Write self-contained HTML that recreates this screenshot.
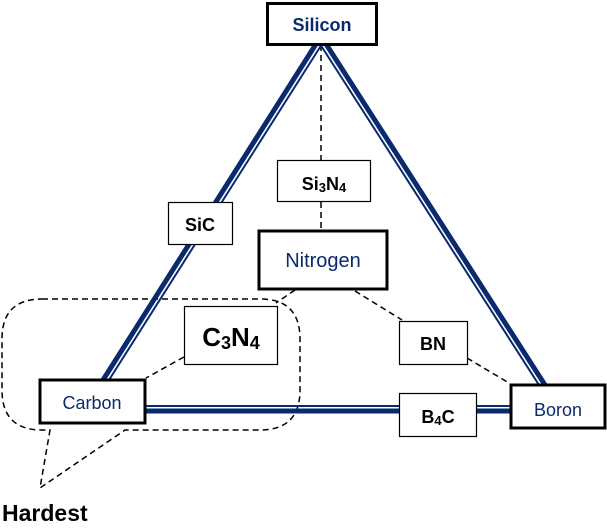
<!DOCTYPE html>
<html><head><meta charset="utf-8"><style>
body{margin:0;background:#fff;}
svg text{font-family:"Liberation Sans",sans-serif;}
</style></head><body>
<svg width="607" height="523" viewBox="0 0 607 523" xmlns="http://www.w3.org/2000/svg">
<g stroke="#000" stroke-width="1.5" stroke-dasharray="6,4" fill="none">
<line x1="321" y1="45" x2="321" y2="160"/>
<line x1="321" y1="202" x2="321" y2="230"/>
<line x1="295" y1="290" x2="276" y2="303"/>
<line x1="184" y1="357" x2="146" y2="378"/>
<line x1="355" y1="291" x2="402" y2="320"/>
<line x1="467" y1="358" x2="509" y2="383"/>
<path d="M42,299 H260 Q300,299 300,339 V390 Q300,430 260,430 H125 L40,488 L50,430 H42 Q2,430 2,390 V339 Q2,299 42,299 Z"/>
</g>
<g stroke="#0a2a6e" fill="none">
<line x1="316" y1="44" x2="103" y2="380" stroke-width="5"/>
<line x1="322" y1="44" x2="109" y2="380" stroke-width="2"/>
<line x1="326" y1="44" x2="545" y2="385" stroke-width="5"/>
<line x1="320" y1="44" x2="539" y2="385" stroke-width="2"/>
<line x1="145" y1="406" x2="510" y2="406" stroke-width="2"/>
<line x1="145" y1="411" x2="510" y2="411" stroke-width="5"/>
</g>
<g fill="#fff" stroke="#000">
<rect x="267.5" y="3.5" width="109" height="41" stroke-width="3"/>
<rect x="277.5" y="160.5" width="93" height="41" stroke-width="1.2"/>
<rect x="168.5" y="202.5" width="64" height="42" stroke-width="1.2"/>
<rect x="259" y="231" width="128" height="58" stroke-width="3"/>
<rect x="184.5" y="306.5" width="93" height="58" stroke-width="1.2"/>
<rect x="399.5" y="321.5" width="68" height="43" stroke-width="1.2"/>
<rect x="399.5" y="393.5" width="77" height="43" stroke-width="1.2"/>
<rect x="40" y="380" width="105" height="43" stroke-width="3"/>
<rect x="511" y="385" width="94" height="43" stroke-width="3"/>
</g>
<g text-anchor="middle">
<text x="322" y="31" font-size="18" font-weight="bold" fill="#0a2a6e">Silicon</text>
<text x="324" y="190" font-size="18" font-weight="bold">Si<tspan font-size="13" dy="2">3</tspan><tspan dy="-2">N</tspan><tspan font-size="13" dy="2">4</tspan></text>
<text x="200" y="231" font-size="18" font-weight="bold">SiC</text>
<text x="323" y="267" font-size="20" fill="#0a2a6e">Nitrogen</text>
<text x="231" y="346" font-size="26" font-weight="bold">C<tspan font-size="18" dy="3">3</tspan><tspan dy="-3">N</tspan><tspan font-size="18" dy="3">4</tspan></text>
<text x="433" y="350" font-size="18" font-weight="bold">BN</text>
<text x="438" y="423" font-size="18" font-weight="bold">B<tspan font-size="13" dy="2">4</tspan><tspan dy="-2">C</tspan></text>
<text x="92" y="409" font-size="18" fill="#0a2a6e">Carbon</text>
<text x="558" y="416" font-size="18" fill="#0a2a6e">Boron</text>
</g>
<text x="2" y="521" font-size="23" font-weight="bold">Hardest</text>
</svg>
</body></html>
